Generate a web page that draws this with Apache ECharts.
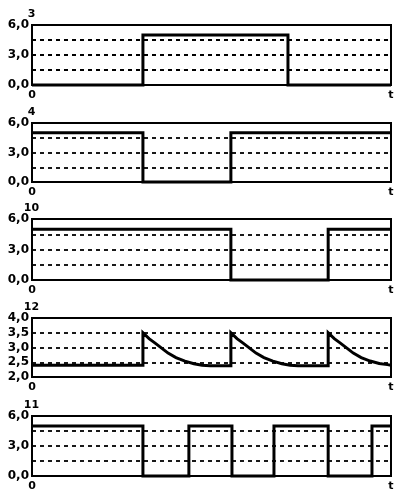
<!DOCTYPE html>
<html><head><meta charset="utf-8">
<script src="https://cdn.jsdelivr.net/npm/echarts@6/dist/echarts.min.js"></script>
<style>html,body{margin:0;padding:0;background:#fff}#c{width:400px;height:495px}</style>
</head><body><div id="c"></div>
<script>
const titles = ['3', '4', '10', '12', '11'];
const xTickVals = [0, 100];
const xTicks = ['0', 't'];
const yTickVals6 = [0, 3, 6];
const yTicks6 = ['0,0', '3,0', '6,0'];
const yTickVals4 = [2, 2.5, 3, 3.5, 4];
const yTicks4 = ['2,0', '2,5', '3,0', '3,5', '4,0'];

const s3 = [[0,0],[30.9,0],[30.9,5],[71.3,5],[71.3,0],[100,0]];
const s4 = [[0,5],[30.9,5],[30.9,0],[55.4,0],[55.4,5],[100,5]];
const s10 = [[0,5],[55.4,5],[55.4,0],[82.5,0],[82.5,5],[100,5]];
const s12 = [[0,2.4],[30.9,2.4],[30.9,3.5],[32.6,3.3],[34.3,3.15],[36.2,2.97],[37.9,2.81],[40.1,2.66],[42.6,2.54],[45.1,2.45],[47.4,2.4],[49.6,2.38],[55.4,2.38],
  [55.4,3.5],[57.1,3.3],[58.8,3.15],[60.7,2.97],[62.4,2.81],[64.6,2.66],[67.1,2.54],[69.6,2.45],[71.9,2.4],[74.1,2.38],[82.5,2.38],
  [82.5,3.5],[84.2,3.3],[85.9,3.15],[87.8,2.97],[89.5,2.81],[91.7,2.66],[94.2,2.54],[96.7,2.46],[99,2.42],[100,2.4]];
const s11 = [[0,5],[30.9,5],[30.9,0],[43.7,0],[43.7,5],[55.7,5],[55.7,0],[67.4,0],[67.4,5],[82.5,5],[82.5,0],[94.7,0],[94.7,5],[100,5]];

const panels = [
  {top:25, h:60, data:s3, ymin:0, ymax:6, step:1.5, tv:yTickVals6, tl:yTicks6},
  {top:123, h:59, data:s4, ymin:0, ymax:6, step:1.5, tv:yTickVals6, tl:yTicks6},
  {top:219, h:61, data:s10, ymin:0, ymax:6, step:1.5, tv:yTickVals6, tl:yTicks6},
  {top:318, h:59, data:s12, ymin:2, ymax:4, step:0.5, tv:yTickVals4, tl:yTicks4},
  {top:416, h:60, data:s11, ymin:0, ymax:6, step:1.5, tv:yTickVals6, tl:yTicks6}
];
const FONT = 'DejaVu Sans';
const grid = [], xAxis = [], yAxis = [], series = [], graphic = [];
panels.forEach((p, i) => {
  grid.push({left:32, width:359, top:p.top, height:p.h, show:true, borderColor:'#000', borderWidth:2, outerBoundsMode:'none', containLabel:false});
  xAxis.push({type:'value', gridIndex:i, min:0, max:100, interval:100,
    axisLine:{show:false}, axisTick:{show:false}, splitLine:{show:false},
    axisLabel:{show:true, margin:5, color:'#000', fontFamily:FONT, fontWeight:'bold', fontSize:11,
      formatter:v => { const k = xTickVals.indexOf(v); return k >= 0 ? xTicks[k] : ''; }}});
  yAxis.push({type:'value', gridIndex:i, min:p.ymin, max:p.ymax, interval:p.step,
    axisLine:{show:false}, axisTick:{show:false},
    splitLine:{show:true, lineStyle:{color:'#000', width:1.8, type:[4,4]}},
    axisLabel:{margin:3, color:'#000', fontFamily:FONT, fontWeight:'bold', fontSize:12,
      formatter:v => { const k = p.tv.findIndex(t => Math.abs(t - v) < 1e-6); return k >= 0 ? p.tl[k] : ''; }}});
  series.push({type:'line', xAxisIndex:i, yAxisIndex:i, data:p.data, showSymbol:false, symbol:'none',
    clip:false, lineStyle:{color:'#000', width:3, join:'miter'}, animation:false});
  graphic.push({type:'text', x:31.5, y:p.top - 11, style:{text:titles[i], align:'center', verticalAlign:'middle',
    font:'bold 11px "DejaVu Sans"', fill:'#000'}});
});
const chart = echarts.init(document.getElementById('c'), null, {renderer:'canvas'});
chart.setOption({animation:false, backgroundColor:'#fff', grid, xAxis, yAxis, series, graphic});
</script></body></html>
